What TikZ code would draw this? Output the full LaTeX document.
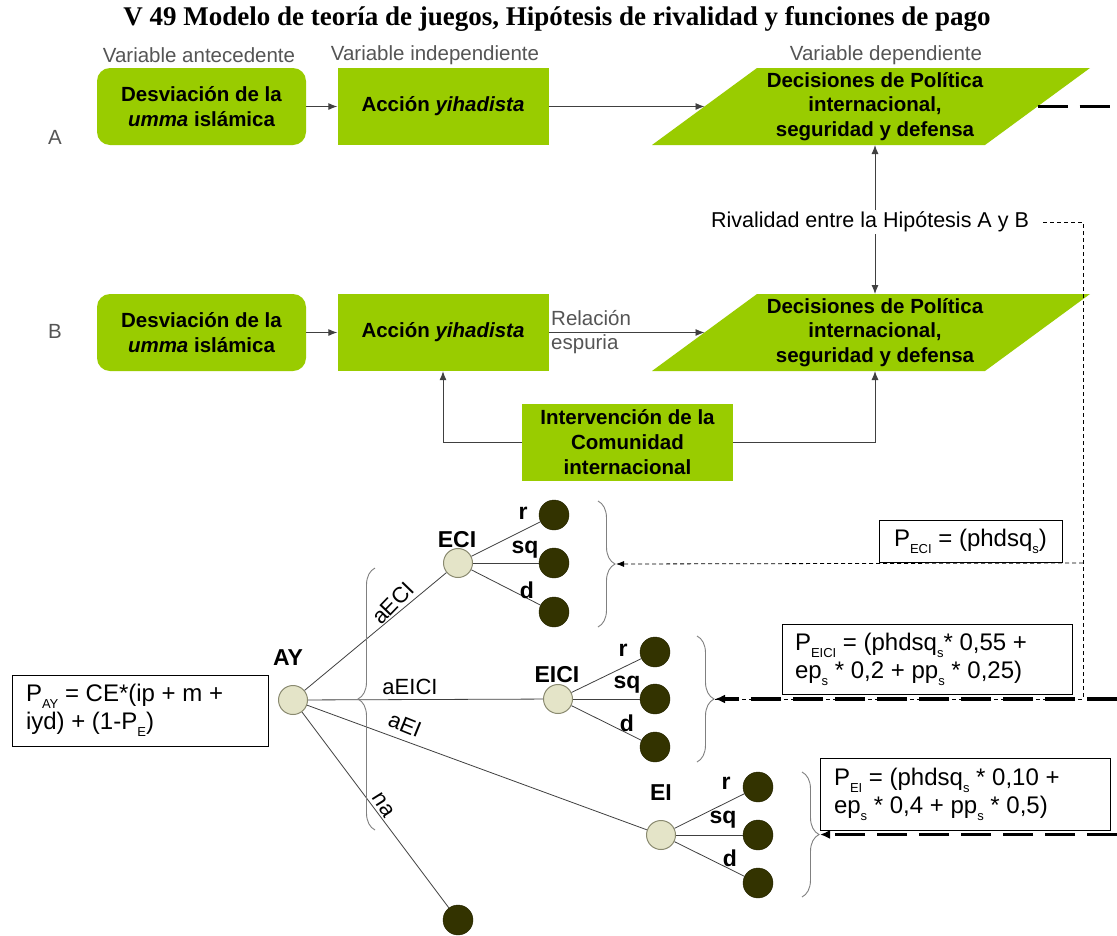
\documentclass[tikz,border=0pt]{standalone}
\usepackage{fontspec}
\setmainfont{Liberation Sans}
\newfontfamily\titlefont{Liberation Serif}
\usetikzlibrary{arrows.meta,decorations.pathreplacing}
\definecolor{vgreen}{HTML}{99CC00}
\definecolor{leafc}{HTML}{333300}
\definecolor{innerc}{HTML}{E4E4C8}
\definecolor{innerb}{HTML}{8A8A70}
\definecolor{graytxt}{HTML}{555555}
\definecolor{linec}{HTML}{404040}
\newcommand\sbs[1]{\raisebox{-0.28em}{\fontsize{13}{13}\selectfont #1}}
\begin{document}
\begin{tikzpicture}[x=1pt,y=-1pt,
 gbox/.style={fill=vgreen, minimum width=211pt, minimum height=77pt, inner sep=0pt, align=center, font=\fontsize{20.5}{25}\selectfont\bfseries},
 gboxr/.style={gbox, rounded corners=13pt},
 ptext/.style={align=center, font=\fontsize{20.5}{24.5}\selectfont\bfseries, inner sep=0pt},
 vlabel/.style={text=graytxt, font=\fontsize{20.5}{23}\selectfont, inner sep=1pt},
 arr/.style={draw=linec, line width=0.9pt, -{Latex[length=9pt,width=7pt]}},
 thickdash/.style={line width=3.5pt, dash pattern=on 30pt off 12pt},
 thindash/.style={line width=0.8pt, dash pattern=on 4pt off 3pt, draw=black},
 inner/.style={circle, minimum size=29pt, inner sep=0pt, fill=innerc, draw=innerb, line width=1pt},
 leaf/.style={circle, minimum size=30pt, inner sep=0pt, fill=leafc, draw=leafc!70!black},
 tedge/.style={draw=linec, line width=0.8pt},
 tlabel/.style={font=\fontsize{23}{23}\selectfont\bfseries, inner sep=0pt},
 blabel/.style={font=\fontsize{22}{22}\selectfont, inner sep=0pt},
 fbox/.style={draw, line width=0.8pt, font=\fontsize{24}{28}\selectfont, align=flush left, inner ysep=0pt},
 brc/.style={draw=gray, line width=0.9pt, decorate, decoration={brace, amplitude=17pt}},
]
\useasboundingbox (0,0) rectangle (1117,935);
\fill[white] (0,0) rectangle (1117,935);

% title
\node[font=\titlefont\bfseries\fontsize{27}{30}\selectfont, inner sep=0pt] (title) at (557,19) {V 49 Modelo de teoría de juegos, Hipótesis de rivalidad y funciones de pago};

% column labels
\node[vlabel] (va) at (199,55) {Variable antecedente};
\node[vlabel] (vi) at (435,55) {Variable independiente};
\node[vlabel] (vd) at (886,55) {Variable dependiente};
\node[vlabel] (lA) at (55,137) {A};
\node[vlabel] (lB) at (55,331) {B};

% row A
\node[gboxr, minimum width=209pt] (A1) at (201.5,106.5) {Desviación de la\\\textit{umma} islámica};
\node[gbox] (A2) at (443,106.5) {Acción \textit{yihadista}};
\fill[vgreen] (757,68) -- (1090,68) -- (985,145) -- (652,145) -- cycle;
\node[ptext] (A3) at (875,106.5) {Decisiones de Política\\internacional,\\seguridad y defensa};
\coordinate (A3w) at (704.5,106.5);
\coordinate (A3e) at (1037.5,106.5);
\coordinate (A3s) at (875,145);
\draw[arr] (A1) -- (A2);
\draw[arr] (A2) -- (A3w);

% rivalry
\node[font=\fontsize{21.5}{21.5}\selectfont, inner sep=2pt] (riv) at (870,222) {Rivalidad entre la Hipótesis A y B};

% row B
\node[gboxr, minimum width=209pt] (B1) at (201.5,332.5) {Desviación de la\\\textit{umma} islámica};
\node[gbox] (B2) at (443,332.5) {Acción \textit{yihadista}};
\fill[vgreen] (757,294) -- (1090,294) -- (985,371) -- (652,371) -- cycle;
\node[ptext] (B3) at (875,332.5) {Decisiones de Política\\internacional,\\seguridad y defensa};
\coordinate (B3w) at (704.5,332.5);
\coordinate (B3n) at (875,294);
\coordinate (B3s) at (875,371);
\draw[arr] (B1) -- (B2);
\draw[arr] (B2) -- (B3w);
\node[vlabel, anchor=west] (rel1) at (550,318) {Relación};
\node[vlabel, anchor=west] (rel2) at (550,344) {espuria};

\draw[arr] (riv.north -| A3s) -- (A3s);
\draw[arr] (riv.south -| B3n) -- (B3n);

% intervention
\node[gbox] (IC) at (627.5,442.5) {Intervención de la\\Comunidad\\internacional};
\draw[arr] (IC.west) -| (B2.south);
\draw[arr] (IC.east) -| (B3s);

% tree
\node[inner] (AY) at (293,700) {};
\node[inner] (ECI) at (458,563) {};
\node[inner] (EICI) at (558,699) {};
\node[inner] (EI) at (661,835) {};
\node[leaf] (e1) at (554,515) {};
\node[leaf] (e2) at (554,563) {};
\node[leaf] (e3) at (554,612) {};
\node[leaf] (f1) at (655,652) {};
\node[leaf] (f2) at (655,699) {};
\node[leaf] (f3) at (655,747) {};
\node[leaf] (g1) at (758,787) {};
\node[leaf] (g2) at (758,835) {};
\node[leaf] (g3) at (758,883) {};
\node[leaf] (na) at (458,920) {};

\draw[tedge] (AY) -- (ECI);
\draw[tedge] (AY) -- (EICI);
\draw[tedge] (AY) -- (EI);
\draw[tedge] (AY) -- (na);
\foreach \p/\c in {ECI/e1,ECI/e2,ECI/e3,EICI/f1,EICI/f2,EICI/f3,EI/g1,EI/g2,EI/g3}
  \draw[tedge] (\p) -- (\c);

\node[tlabel] (tAY) at (288,658) {AY};
\node[tlabel] (tECI) at (457,540) {ECI};
\node[tlabel] (tEICI) at (557,675) {EICI};
\node[tlabel] (tEI) at (661,793) {EI};
\node[tlabel] (er) at (523,513) {r};
\node[tlabel] (esq) at (525,550) {sq};
\node[tlabel] (ed) at (527,590) {d};
\node[tlabel] (fr) at (623,650) {r};
\node[tlabel] (fsq) at (627,685) {sq};
\node[tlabel] (fd) at (627,723) {d};
\node[tlabel] (gr) at (726,783) {r};
\node[tlabel] (gsq) at (723,820) {sq};
\node[tlabel] (gd) at (730,858) {d};

\node[blabel, rotate=46] (baECI) at (393,603) {aECI};
\node[blabel] (baEICI) at (410,687) {aEICI};
\node[blabel, rotate=-22] (baEI) at (405,725) {aEI};
\node[blabel, rotate=-58] (bna) at (383,805) {na};

% braces
\draw[brc] (375,830) -- (375,568);
\draw[brc] (598,501) -- (598,627);
\draw[brc] (697,636) -- (697,762);
\draw[brc] (802,772) -- (802,897);
\coordinate (eciTip) at (616,564);
\coordinate (eiciTip) at (715,699);
\coordinate (eiTip) at (820,834.5);

% formula boxes
\node[fbox, minimum width=256pt, minimum height=71pt, text width=228pt, inner xsep=14pt] (PAY) at (140,710.5) {P\sbs{AY} = CE*(ip + m +\\iyd) + (1-P\sbs{E})};
\node[fbox, align=center, minimum width=183pt, minimum height=42pt, inner xsep=0pt] (PECI) at (970.5,541) {P\sbs{ECI} = (phdsq\sbs{s})};
\node[fbox, minimum height=70pt, text width=264pt, inner xsep=13pt] (PEICI) at (927,659) {P\sbs{EICI} = (phdsq\sbs{s}* 0,55 +\\ep\sbs{s} * 0,2 + pp\sbs{s} * 0,25)};
\node[fbox, minimum height=72pt, text width=262pt, inner xsep=14pt] (PEI) at (965,794) {P\sbs{EI} = (phdsq\sbs{s} * 0,10 +\\ep\sbs{s} * 0,4 + pp\sbs{s} * 0,5)};

% dashed connectors
\coordinate (c1) at (1083,222);
\coordinate (c2) at (1083,563);
\coordinate (c3) at (1083,699);
\coordinate (r1) at (1117,106.5);
\coordinate (r2) at (1117,699);
\coordinate (r3) at (1117,834.5);
\draw[thindash, shorten <=12pt] (riv.east) -- (c1) -- (c3) -- (eiciTip);
\draw[thindash, -{Latex[length=8pt,width=6pt]}] (c2) -- (eciTip);
\draw[thickdash] (A3e) -- (r1);
\draw[thickdash, -{Latex[length=10pt,width=9pt]}] (r2) -- (eiciTip);
\draw[thickdash, -{Latex[length=10pt,width=9pt]}] (r3) -- (eiTip);
\end{tikzpicture}
\end{document}
